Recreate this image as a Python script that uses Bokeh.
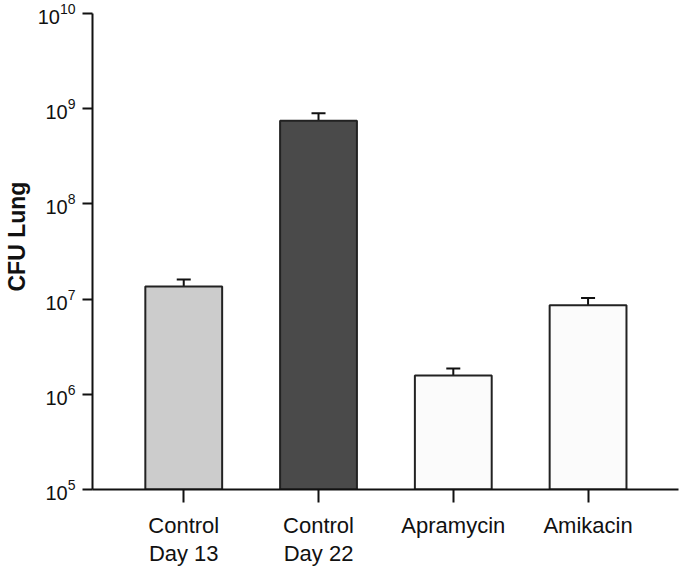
from bokeh.plotting import figure
from bokeh.models import FixedTicker, Range1d, ColumnDataSource, Whisker, TeeHead, Title
from bokeh.embed import file_html
from bokeh.resources import INLINE

categories = ["Control\nDay 13", "Control\nDay 22", "Apramycin", "Amikacin"]
cfu_mean = [1.36e7, 7.48e8, 1.58e6, 8.64e6]
cfu_upper = [1.61e7, 8.98e8, 1.87e6, 1.03e7]
cfu_lower = [1.16e7, 6.33e8, 1.31e6, 7.26e6]
bar_colors = ["#cccccc", "#4a4a4a", "#fbfbfb", "#fbfbfb"]
y_ticks = [1e5, 1e6, 1e7, 1e8, 1e9, 1e10]
y_label = "CFU Lung"

FONT = "Liberation Sans"
INK = "#111111"

xs = list(range(1, len(categories) + 1))
src = ColumnDataSource(dict(x=xs, top=cfu_mean, upper=cfu_upper,
                            lower=cfu_lower, color=bar_colors))

p = figure(width=680, height=569, y_axis_type="log",
           x_range=Range1d(0.323, 4.671), y_range=Range1d(y_ticks[0], y_ticks[-1]),
           output_backend="svg", toolbar_location=None,
           min_border_left=91, min_border_top=13, min_border_right=2,
           min_border_bottom=78)

p.vbar(x="x", top="top", bottom=y_ticks[0], width=0.57, source=src,
       fill_color="color", line_color="#222222", line_width=2)

whisk = Whisker(base="x", upper="upper", lower="lower", source=src,
                dimension="height", line_color=INK, line_width=2,
                upper_head=TeeHead(size=14, line_width=2, line_color=INK),
                lower_head=TeeHead(size=14, line_width=2, line_color=INK))
p.add_layout(whisk)

p.outline_line_color = None
p.xgrid.visible = False
p.ygrid.visible = False
p.background_fill_color = "white"
p.border_fill_color = "white"

# x axis
xa = p.xaxis[0]
xa.ticker = FixedTicker(ticks=xs)
xa.major_label_overrides = {x: c for x, c in zip(xs, categories)}
xa.axis_line_width = 2
xa.axis_line_color = INK
xa.major_tick_line_width = 2
xa.major_tick_line_color = INK
xa.major_tick_out = 13
xa.major_tick_in = 0
xa.minor_tick_line_color = None
xa.major_label_text_font = FONT
xa.major_label_text_font_size = "22px"
xa.major_label_text_color = INK
xa.major_label_standoff = 10
xa.major_label_text_line_height = 1.15

# y axis
ya = p.yaxis[0]
ya.ticker = FixedTicker(ticks=y_ticks)
ya.axis_line_width = 2
ya.axis_line_color = INK
ya.major_tick_line_width = 2
ya.major_tick_line_color = INK
ya.major_tick_out = 10
ya.major_tick_in = 0
ya.minor_tick_line_color = None
ya.major_label_text_font = FONT
ya.major_label_text_font_size = "20px"
ya.major_label_text_color = INK
ya.major_label_standoff = 7

ytitle = Title(text=y_label, align="left", offset=198, vertical_align="top",
               standoff=6, text_font=FONT, text_font_style="bold",
               text_font_size="23px", text_color=INK)
p.add_layout(ytitle, "left")

open("out.html", "w").write(file_html(p, INLINE))
